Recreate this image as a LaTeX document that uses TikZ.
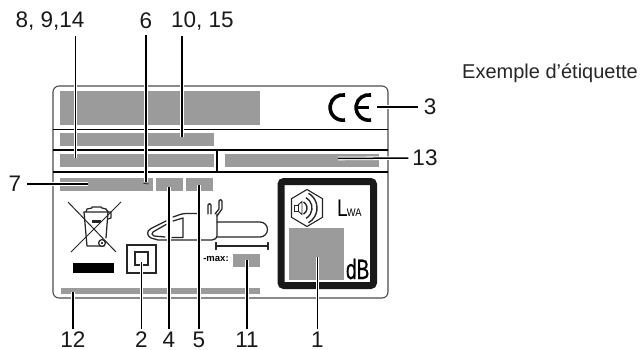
\documentclass[tikz,border=0pt]{standalone}
\usepackage{fontspec}
\setmainfont{Liberation Sans}
\newfontfamily\heavyfont[FakeBold=0.8]{Liberation Sans}
\definecolor{patch}{HTML}{9B9B9B}
\tikzset{
  patchbox/.style={fill=patch,draw=none},
  rule/.style={line width=1.5pt,black},
  pic line/.style={line width=1.25pt,black!85,line cap=round,line join=round},
  leader/.style={line width=1.5pt,black,preaction={draw=white,line width=3.6pt,line cap=square}},
  num/.style={font=\fontsize{22.5}{22.5}\selectfont,inner sep=0pt,text=black!90},
}
\begin{document}
\begin{tikzpicture}[x=1pt,y=-1pt]
\useasboundingbox (0,0) rectangle (644,350);
\fill[white] (0,0) rectangle (644,350);
% label outline
\draw[line width=1.1pt,black!70,rounded corners=6pt] (53,86) rectangle (388,298);
% patches
\fill[patchbox] (60,91) rectangle (260,125);
\fill[patchbox] (60,133) rectangle (214,146);
\fill[patchbox] (60,154) rectangle (214,167);
\fill[patchbox] (225,154) rectangle (379,167);
\fill[patchbox] (60,178) rectangle (153,191);
\fill[patchbox] (156,178) rectangle (183,191);
\fill[patchbox] (186,178) rectangle (213,191);
\fill[patchbox] (233,254) rectangle (260,267);
\fill[patchbox] (61,288) rectangle (260,294);
% rules
\draw[rule] (53,129.5) -- (388,129.5);
\draw[rule] (53,150) -- (388,150);
\draw[rule] (53,172) -- (388,172);
\draw[rule] (217,150) -- (217,172);
% tilde
\node[inner sep=0pt,font=\fontsize{10}{10}\selectfont] (tilde) at (146,186) {\textasciitilde};
% CE mark
\draw[line width=3.6pt,black] (345,95) arc[start angle=-80,end angle=-280,radius=12.7];
\draw[line width=3.6pt,black] (371,95) arc[start angle=-80,end angle=-280,radius=12.7];
\draw[line width=2.6pt,black] (358,107.5) -- (369,107.5);
% recycling bin
\draw[line width=1pt,black!85] (68,202) -- (116,252);
\draw[line width=1pt,black!85] (121,202) -- (71,252);
\draw[pic line] (84,212) -- (87,246) -- (104,246);
\draw[pic line] (84,212) -- (108,212) -- (106,238);
\draw[pic line] (86,212) -- (87,209) -- (92,208) -- (92,207) -- (101,207) -- (102,208) -- (106,209) -- (108,212);
\draw[pic line] (108,212) -- (111,212) -- (111,218) -- (108,219);
\draw[pic line,fill=white] (102,243) circle[radius=3.4];
\fill[black] (102,243) circle[radius=1.2];
\fill[black!85] (92,220) rectangle (101,223);
\fill[black] (73,263) rectangle (114,273);
% square symbol
\draw[line width=1.1pt,black!85] (127,245) rectangle (156,273);
\draw[line width=1.1pt,black!85] (135,252) rectangle (148,265);
% chain saw
\draw[pic line,rounded corners=3pt] (197,213.5) -- (183,213.5) -- (173,217);
\draw[pic line] (166,221) -- (151,228.5) .. controls (146,231) and (147,236) .. (151,238) -- (158,240) -- (212,240) .. controls (215,240) and (217,238) .. (217,236) -- (217,214);
\draw[pic line] (166,224.5) -- (153,232) .. controls (151,233.5) and (152,235) .. (154,236) -- (165,237);
\draw[pic line] (172,237.5) -- (183,237.5) -- (183,218) -- (173,221);
\draw[pic line] (208,214) -- (208,205) .. controls (208,203) and (211,203) .. (211,205) -- (211,214);
\draw[pic line] (215,214) -- (219,209) -- (219,201) .. controls (219,199) and (222,199) .. (222,201) -- (222,209) -- (217,216);
\draw[pic line] (217,222) -- (260,222) arc[start angle=-90,end angle=90,radius=7.5] -- (217,237);
\draw[pic line] (216,246) -- (268,246);
\draw[pic line] (216,242.5) -- (216,249.5);
\draw[pic line] (268,242.5) -- (268,249.5);
\node[inner sep=0pt,font=\bfseries\fontsize{9.5}{10}\selectfont] (maxlab) at (216,259) {-max:};
% noise box
\draw[line width=7pt,black!90,rounded corners=3pt] (281,181.5) rectangle (373.5,285.5);
\fill[patchbox] (289,228) rectangle (344,280);
\draw[line width=1.1pt,black!85] (307,189.5) -- (322.5,198.7) -- (322.5,217.3) -- (307,226.5) -- (291.5,217.3) -- (291.5,198.7) -- cycle;
\draw[line width=0.9pt,black!85] (294,205) rectangle (298,211);
\draw[line width=0.9pt,black!85] (298,205) -- (302,201.5) -- (302,214.5) -- (298,211);
\draw[line width=1.4pt,black!85] (303.5,202) arc[start angle=-60,end angle=60,radius=7];
\draw[line width=1.4pt,black!85] (306,197.6) arc[start angle=-60,end angle=60,radius=12];
\draw[line width=1.4pt,black!85] (308.5,193.3) arc[start angle=-60,end angle=60,radius=17];
\node[inner sep=0pt,anchor=base west,font=\fontsize{24}{24}\selectfont] (lwa) at (337,216) {\scalebox{0.8}[1]{L}\hspace{-1pt}\scalebox{0.85}[1]{\fontsize{11}{11}\selectfont WA}};
\node[inner sep=0pt,anchor=base east,font=\heavyfont\fontsize{28}{28}\selectfont] (db) at (369.5,279) {\scalebox{0.68}[1]{dB}};
% caption
\node[inner sep=0pt,anchor=west,font=\fontsize{20}{20}\selectfont,text=black!85] (cap) at (462,73) {Exemple d'étiquette};
% number labels
\node[num] (n8) at (50,21) {8, 9,14};
\node[num] (n6) at (146,21) {6};
\node[num] (n10) at (202.5,21) {10, 15};
\node[num] (n3) at (430,107) {3};
\node[num] (n13) at (425,158) {13};
\node[num] (n7) at (15,184) {7};
\node[num] (n12) at (73,340) {12};
\node[num] (n2) at (141.5,340) {2};
\node[num] (n4) at (169,340) {4};
\node[num] (n5) at (199,340) {5};
\node[num] (n11) at (247,340) {11};
\node[num] (n1) at (317.5,340) {1};
% leader targets
\coordinate (a8top) at (75.5,36);
\coordinate (a8) at (75.5,158);
\coordinate (a6) at (146,182);
\coordinate (a10top) at (182,36);
\coordinate (a10) at (182,137);
\coordinate (a3) at (377,107);
\coordinate (a13) at (338,158.5);
\coordinate (a7) at (88,184);
\coordinate (a12) at (73,292);
\coordinate (a2) at (141.5,262);
\coordinate (a4) at (169,187);
\coordinate (a5) at (199,185);
\coordinate (a11) at (247,260);
\coordinate (a1) at (317.5,257);
% leaders
\draw[leader] (a8top) -- (a8);
\draw[leader] ([yshift=-6pt]n6.south) -- (a6);
\draw[leader] (a10top) -- (a10);
\draw[leader] ([xshift=-6pt]n3.west) -- (a3);
\draw[leader] ([xshift=-4pt]n13.west) -- (a13);
\draw[leader] ([xshift=6pt]n7.east) -- (a7);
\draw[leader] ([yshift=3pt]n12.north) -- (a12);
\draw[leader] ([yshift=3pt]n2.north) -- (a2);
\draw[leader] ([yshift=3pt]n4.north) -- (a4);
\draw[leader] ([yshift=3pt]n5.north) -- (a5);
\draw[leader] ([yshift=3pt]n11.north) -- (a11);
\draw[leader] ([yshift=3pt]n1.north) -- (a1);
\end{tikzpicture}
\end{document}
